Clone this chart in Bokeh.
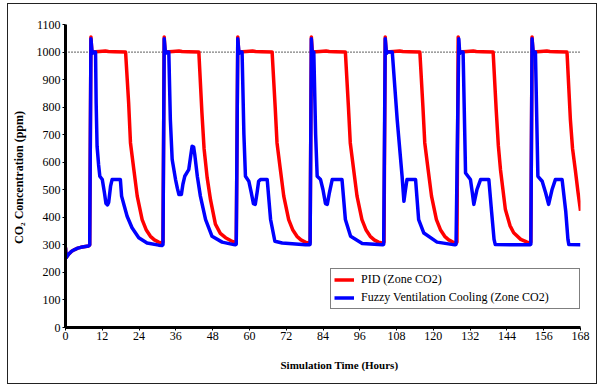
from bokeh.plotting import figure
from bokeh.models import Legend, LegendItem, Title, FixedTicker
from bokeh.embed import file_html
from bokeh.resources import INLINE

# ---------------- data ----------------
x_ticks = [0, 12, 24, 36, 48, 60, 72, 84, 96, 108, 120, 132, 144, 156, 168]
y_ticks = [0, 100, 200, 300, 400, 500, 600, 700, 800, 900, 1000, 1100]

setpoint_hours = [0, 169]
setpoint_ppm = [1000, 1000]

pid_hours = [0, 0.2, 1, 2, 3, 4, 5, 6, 7.5,
             7.9, 8.3, 8.6, 11, 13, 14, 16, 19.6, 20.6, 21.2, 22.3, 23.4, 25.0, 26.3, 27.7, 29.0, 30.4, 31.5,
             31.8, 32.2, 32.5, 35, 37, 38, 40, 43.5, 44.5, 45.2, 46.2, 47.3, 48.9, 50.5, 52.2, 54.0, 55.4,
             55.7, 56.2, 56.5, 59, 61, 62, 64, 67.4, 68.4, 69.0, 70.1, 71.2, 72.8, 74.1, 75.5, 76.8, 78.2, 79.5,
             79.8, 80.2, 80.5, 83, 85, 86, 88, 91.3, 92.3, 92.9, 94.0, 95.1, 96.7, 98.0, 99.4, 100.7, 102.1, 103.6,
             103.9, 104.3, 104.6, 107, 109, 110, 112, 115.6, 116.6, 117.2, 118.3, 119.4, 121.0, 122.3, 123.7, 125.0, 126.4, 127.4,
             127.7, 128.1, 128.4, 131, 133, 134, 136, 139.5, 140.5, 141.2, 141.9, 143.5, 145.0, 146.2, 148.5, 150.6, 151.5,
             151.8, 152.2, 152.5, 155, 157, 158, 160, 163.6, 164.7, 165.4, 166.3, 167.2, 168]
pid_ppm = [290, 253, 266, 277, 283, 288, 291, 293, 296,
           300, 1055, 1000, 1002, 1004, 1002, 1001, 1000, 815, 670, 573, 477, 392, 355, 331, 318, 310, 306,
           310, 1055, 1000, 1002, 1004, 1002, 1001, 1000, 780, 650, 545, 464, 375, 342, 326, 315, 308,
           310, 1055, 1000, 1002, 1004, 1002, 1001, 1000, 800, 670, 573, 477, 392, 355, 331, 318, 310, 306,
           310, 1055, 1000, 1002, 1004, 1002, 1001, 1000, 800, 670, 573, 477, 392, 355, 331, 318, 310, 306,
           310, 1055, 1000, 1002, 1004, 1002, 1001, 1000, 800, 670, 573, 477, 392, 355, 331, 318, 310, 306,
           310, 1055, 1000, 1002, 1004, 1002, 1001, 1000, 790, 660, 573, 428, 370, 344, 320, 310, 306,
           310, 1055, 1000, 1002, 1004, 1002, 1001, 1000, 755, 650, 573, 490, 424]

fuzzy_hours = [0, 0.2, 1, 2, 3, 4, 5, 6, 7.5,
               7.9, 8.3, 8.7, 9.0, 9.8, 10.0, 10.3, 10.8, 11.2, 12.0, 12.7, 13.2, 13.7, 14.1, 14.7, 15.2, 17.9,
               18.3, 19.2, 20.1, 21.7, 23.9, 26.6, 30.4, 31.5,
               31.8, 32.2, 32.6, 33.0, 33.7, 34.2, 34.8, 35.9, 36.5, 37.0, 37.8, 38.3, 38.9, 40.2, 40.8, 41.3,
               41.8, 42.2, 43.0, 44.0, 45.7, 47.8, 51.1, 54.9, 55.4,
               55.7, 56.2, 56.6, 57.0, 57.6, 58.2, 58.7, 59.8, 60.6, 61.3, 61.9, 62.5, 63.0, 63.6, 65.8, 66.9,
               68.3, 70.7, 78.3, 79.4,
               79.8, 80.2, 80.5, 80.7, 81.0, 81.6, 82.1, 83.2, 84.0, 84.8, 85.4, 86.1, 87.0, 90.2, 91.3, 93.0,
               96.8, 103.4,
               103.8, 104.3, 104.7, 105.0, 106.6, 108.2, 109.8, 110.4, 110.9, 111.4, 114.2, 115.2, 116.9, 121.2, 127.0,
               127.4, 128.3, 128.6, 128.9, 129.7, 130.5, 132.1, 132.7, 133.2, 134.2, 135.4, 138.1, 139.0, 139.8, 140.2, 151.5,
               151.8, 152.2, 152.6, 152.9, 153.3, 154.1, 155.5, 156.6, 157.6, 158.7, 159.8, 162.0, 163.2, 163.9, 164.2, 168]
fuzzy_ppm = [290, 253, 266, 277, 283, 288, 291, 293, 296,
             300, 1048, 995, 1000, 1000, 815, 658, 590, 549, 537, 489, 450, 445, 455, 513, 537, 537,
             477, 440, 404, 362, 326, 307, 299, 298,
             300, 1048, 995, 1000, 1000, 755, 610, 537, 505, 483, 483, 520, 549, 573, 620, 658,
             655, 625, 549, 477, 392, 331, 310, 301, 300,
             302, 1048, 995, 1000, 1000, 700, 549, 531, 490, 450, 447, 490, 531, 537, 537, 392,
             313, 307, 300, 300,
             302, 1048, 995, 1000, 1000, 700, 549, 537, 500, 450, 447, 490, 537, 537, 392, 331,
             305, 300,
             302, 1048, 995, 1000, 1000, 755, 549, 458, 500, 537, 537, 392, 343, 310, 300,
             302, 1048, 995, 1000, 1000, 561, 537, 490, 447, 500, 537, 537, 420, 320, 301, 300,
             302, 1048, 995, 1000, 1000, 549, 531, 490, 447, 500, 537, 537, 420, 320, 301, 300]

# ---------------- figure ----------------
SERIF = "Liberation Serif"

p = figure(width=590, height=381, output_backend="svg", toolbar_location=None,
           x_range=(0, 168), y_range=(0, 1100),
           margin=(3, 0, 0, 7),
           styles={"border": "1.5px solid #222222"},
           min_border_left=57, min_border_right=18, min_border_top=20, min_border_bottom=58)
p.outline_line_color = None
p.background_fill_color = "white"
p.border_fill_color = "white"
p.xgrid.visible = False
p.ygrid.visible = False

for ax in (p.xaxis[0], p.yaxis[0]):
    ax.axis_line_width = 3
    ax.axis_line_color = "black"
    ax.major_tick_line_width = 1
    ax.major_tick_line_color = "black"
    ax.major_tick_out = 3
    ax.major_tick_in = 0
    ax.minor_tick_line_color = None
    ax.major_label_text_font = SERIF
    ax.major_label_text_font_size = "12px"
    ax.major_label_text_color = "black"
    ax.major_label_standoff = 2
p.xaxis.major_label_standoff = 1

p.xaxis.ticker = FixedTicker(ticks=x_ticks)
p.yaxis.ticker = FixedTicker(ticks=y_ticks)

p.yaxis.axis_label = "CO\u2082  Concentration (ppm)"
p.yaxis.axis_label_text_font = SERIF
p.yaxis.axis_label_text_font_style = "bold"
p.yaxis.axis_label_text_font_size = "12px"
p.yaxis.axis_label_text_color = "black"
p.yaxis.axis_label_standoff = 8

p.line(setpoint_hours, setpoint_ppm, line_color="black", line_width=1.3, line_dash="1 2")

r_pid = p.line(pid_hours, pid_ppm, line_color="#FF0000", line_width=3.5, line_join="round")
r_fuzzy = p.line(fuzzy_hours, fuzzy_ppm, line_color="#0000FF", line_width=3.5, line_join="round")

legend = Legend(items=[LegendItem(label="PID (Zone CO2)", renderers=[r_pid]),
                       LegendItem(label="Fuzzy Ventilation Cooling (Zone CO2)", renderers=[r_fuzzy])],
                location=(265, 18))
legend.label_text_font = SERIF
legend.label_text_font_size = "12px"
legend.label_text_color = "black"
legend.border_line_color = "black"
legend.border_line_width = 1
legend.background_fill_alpha = 1
legend.padding = 3
legend.margin = 0
legend.spacing = 3
legend.glyph_width = 20
legend.glyph_height = 13
legend.label_height = 13
legend.label_standoff = 7
legend.label_width = 215
p.add_layout(legend)

xlabel = Title(text="Simulation Time (Hours)", align="left", offset=215,
               text_font=SERIF, text_font_style="bold", text_font_size="11px",
               text_color="black", standoff=28)
p.add_layout(xlabel, "below")

open("out.html", "w").write(file_html(p, INLINE))
